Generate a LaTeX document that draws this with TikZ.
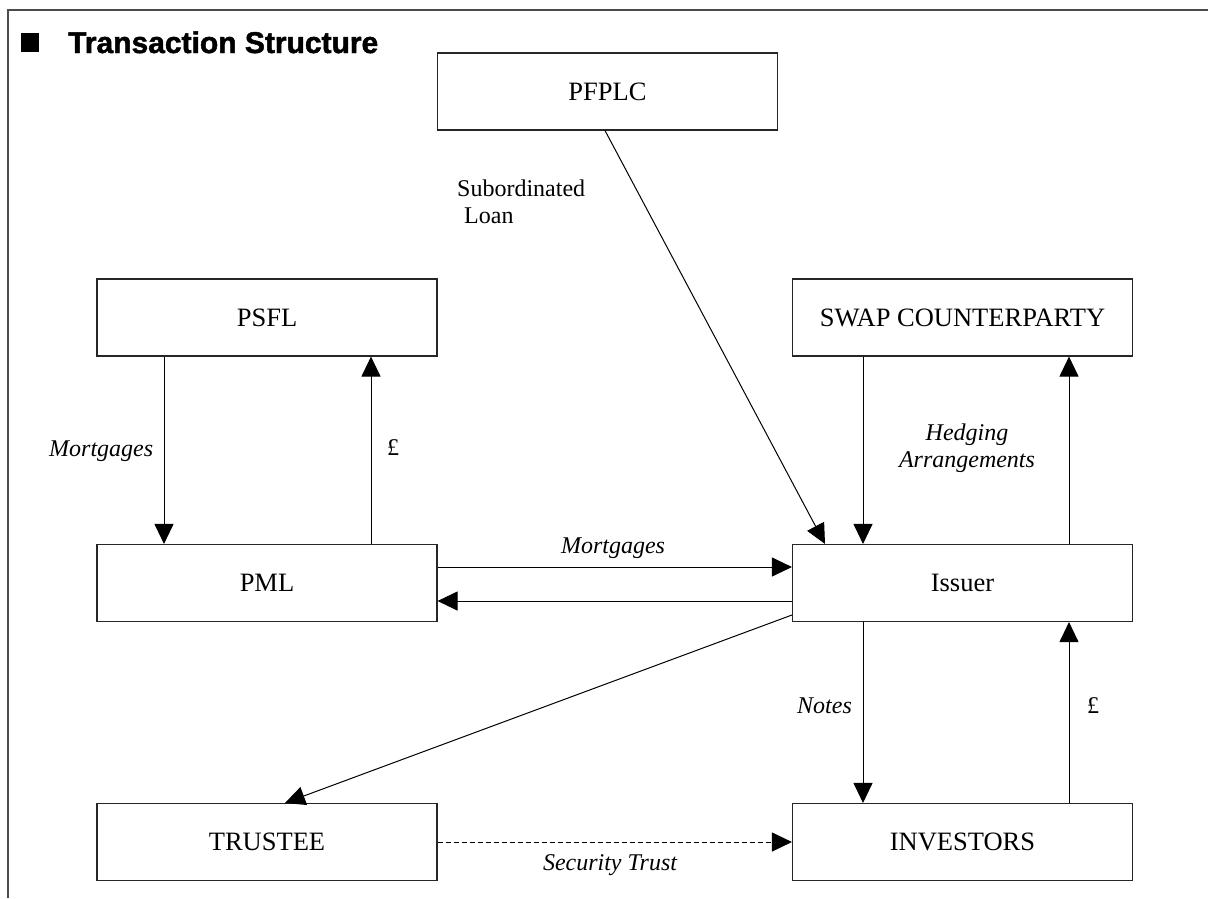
\documentclass[tikz,border=0pt]{standalone}
\usepackage{fontspec}
\setmainfont{Liberation Serif}
\newfontfamily\headfont{Liberation Sans}[BoldFeatures={FakeBold=1.6}]
\usetikzlibrary{positioning, arrows.meta}

\begin{document}
\begin{tikzpicture}[
      x=1pt, y=-1pt,
      box/.style={rectangle, draw=black!85, line width=1.1pt, inner sep=0pt,
        minimum width=340pt, minimum height=77pt, font=\fontsize{26.5}{30}\selectfont},
      lbl/.style={inner sep=0pt, font=\fontsize{24}{27}\selectfont\itshape},
      plain/.style={inner sep=0pt, font=\fontsize{24}{27}\selectfont},
      arr/.style={line width=1pt, -{Triangle[length=20pt, width=19pt]}},
      frame/.style={draw=black!70, line width=1.4pt}
    ]
      \useasboundingbox (0,0) rectangle (1208,898);
      \draw[frame] (8,898) -- (8,10) -- (1208,10);
      \node[fill=black, inner sep=0pt, minimum width=18pt, minimum height=19pt] (bullet) at (30,42.5) {};
      \node[inner sep=0pt, anchor=base west, font=\headfont\fontsize{30}{34}\selectfont\bfseries] (title) at (68,53) {Transaction Structure};

      \node[box] (pfplc) at (607.5,91.5) {PFPLC};
      \node[box] (psfl) at (267,317.5) {PSFL};
      \node[box] (swap) at (962.5,317.5) {SWAP COUNTERPARTY};
      \node[box] (pml) at (267,583) {PML};
      \node[box] (issuer) at (962.5,583) {Issuer};
      \node[box] (trustee) at (267,842) {TRUSTEE};
      \node[box] (investors) at (962.5,842) {INVESTORS};

      \draw[arr] ([xshift=-103pt]psfl.south) -- ([xshift=-103pt]pml.north);
      \draw[arr] ([xshift=104pt]pml.north) -- ([xshift=104pt]psfl.south);
      \draw[arr] ([xshift=-2.5pt]pfplc.south) -- ([xshift=-137.5pt]issuer.north);
      \draw[arr] ([xshift=-99.5pt]swap.south) -- ([xshift=-99.5pt]issuer.north);
      \draw[arr] ([xshift=106.5pt]issuer.north) -- ([xshift=106.5pt]swap.south);
      \draw[arr] ([yshift=16pt]pml.east) -- ([yshift=16pt]issuer.west);
      \draw[arr] ([yshift=-18pt]issuer.west) -- ([yshift=-18pt]pml.east);
      \draw[arr] ([yshift=-32pt]issuer.west) -- ([xshift=18pt]trustee.north);
      \draw[arr] ([xshift=-99.5pt]issuer.south) -- ([xshift=-99.5pt]investors.north);
      \draw[arr] ([xshift=106.5pt]investors.north) -- ([xshift=106.5pt]issuer.south);
      \draw[arr, dash pattern=on 5pt off 3pt] (trustee.east) -- (investors.west);

      \node[plain, anchor=north west, align=left] (subloan) at (457,180) {Subordinated\\\hspace*{7pt}Loan};
      \node[lbl, anchor=base west] (mortleft) at (49,456) {Mortgages};
      \node[plain, anchor=base west] (poundleft) at (387,455) {£};
      \node[lbl, anchor=north, align=center] (hedging) at (967,423.5) {Hedging\\Arrangements};
      \node[lbl, anchor=base] (mortmid) at (613,553) {Mortgages};
      \node[lbl, anchor=base west] (notes) at (797,713) {Notes};
      \node[plain, anchor=base west] (poundright) at (1087,713) {£};
      \node[lbl, anchor=base] (sectrust) at (610,870) {Security Trust};
    \end{tikzpicture}
\end{document}
